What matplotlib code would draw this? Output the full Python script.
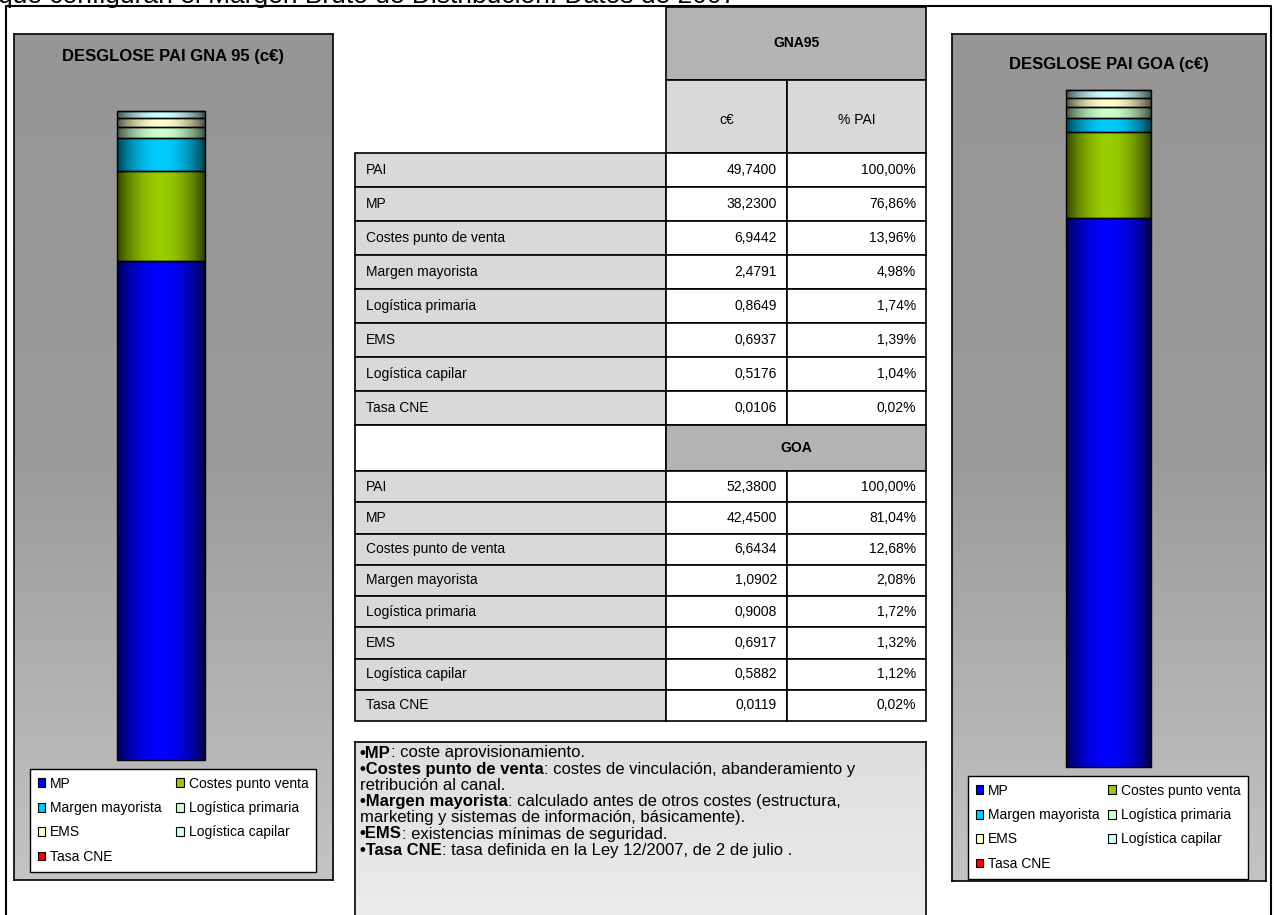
import numpy as np
import matplotlib
matplotlib.use('Agg')
import matplotlib.pyplot as plt
from matplotlib.patches import Rectangle, Patch
from matplotlib.colors import to_rgb, LinearSegmentedColormap

plt.rcParams['font.family'] = ['Liberation Sans', 'DejaVu Sans']

W, H = 1277, 915

# componentes del PAI, de abajo arriba en la barra
componentes = ['MP', 'Costes punto de venta', 'Margen mayorista', 'Logística primaria',
               'EMS', 'Logística capilar', 'Tasa CNE']
leyenda = ['MP', 'Costes punto venta', 'Margen mayorista', 'Logística primaria',
           'EMS', 'Logística capilar', 'Tasa CNE']
colores = ['#0000ff', '#99cc00', '#00ccff', '#ccffcc', '#ffffcc', '#ccffff', '#ff0000']

gna_pai = 49.7400
gna_ce = [38.2300, 6.9442, 2.4791, 0.8649, 0.6937, 0.5176, 0.0106]
gna_pct = [76.86, 13.96, 4.98, 1.74, 1.39, 1.04, 0.02]

goa_pai = 52.3800
goa_ce = [42.4500, 6.6434, 1.0902, 0.9008, 0.6917, 0.5882, 0.0119]
goa_pct = [81.04, 12.68, 2.08, 1.72, 1.32, 1.12, 0.02]

notas = [
    [('•MP', True), (': coste aprovisionamiento.', False)],
    [('•Costes punto de venta', True), (': costes de vinculación, abanderamiento y', False)],
    [('retribución al canal.', False)],
    [('•Margen mayorista', True), (': calculado antes de otros costes (estructura,', False)],
    [('marketing y sistemas de información, básicamente).', False)],
    [('•EMS', True), (': existencias mínimas de seguridad.', False)],
    [('•Tasa CNE', True), (': tasa definida en la Ley 12/2007, de 2 de julio .', False)],
]


def num(v):
    return f'{v:.4f}'.replace('.', ',')


def pct(v):
    return f'{v:.2f}%'.replace('.', ',')


fig = plt.figure(figsize=(W / 100, H / 100), dpi=100)
base = fig.add_axes([0, 0, 1, 1])
base.set_xlim(0, W)
base.set_ylim(H, 0)
base.axis('off')


def px_axes(x0, y0, x1, y1, **kw):
    return fig.add_axes([x0 / W, 1 - y1 / H, (x1 - x0) / W, (y1 - y0) / H], **kw)


# texto de cabecera cortado por arriba y marco exterior
base.text(-2, 3, 'que configuran el Margen Bruto de Distribución. Datos de 2007',
          fontsize=19, va='baseline', ha='left')
base.plot([6, 6, 1271, 1271], [H + 5, 6, 6, H + 5], color='black', lw=1.5)


def cilindro(color, n=80):
    t = np.linspace(0, 1, n)
    f = 0.3 + 0.7 * np.sin(np.pi * t) ** 0.8
    rgb = np.array(to_rgb(color))
    return (rgb[None, :] * f[:, None])[None, :, :]


def barra(ax, valores, total):
    fondo = 0.0
    for v, c in zip(valores, colores):
        rect = ax.bar(0, v, width=1.0, bottom=fondo, color='none', edgecolor='black',
                      lw=1.0, zorder=3, clip_on=False)[0]
        img = ax.imshow(cilindro(c), extent=(-0.5, 0.5, fondo, fondo + v),
                        aspect='auto', zorder=2, interpolation='bilinear')
        img.set_clip_path(rect)
        fondo += v
    ax.set_xlim(-0.5, 0.5)
    ax.set_ylim(0, total)
    ax.axis('off')


def panel(caja, titulo, y_titulo, valores, total, caja_barra, caja_ley):
    x0, y0, x1, y1 = caja
    ax = px_axes(x0, y0, x1, y1)
    grad = np.linspace(0, 1, 256)[:, None]
    cmap = LinearSegmentedColormap.from_list('fondo', ['#969696', '#9a9a9a', '#c4c4c4'])
    ax.imshow(grad, cmap=cmap, extent=(0, 1, 0, 1), aspect='auto')
    ax.set_xlim(0, 1)
    ax.set_ylim(0, 1)
    ax.set_xticks([])
    ax.set_yticks([])
    for s in ax.spines.values():
        s.set_linewidth(1.2)
    ax.text(0.5, 1 - (y_titulo - y0) / (y1 - y0), titulo, ha='center', va='center',
            fontsize=12, fontweight='bold', transform=ax.transAxes)

    bx = px_axes(*caja_barra)
    barra(bx, valores, total)

    orden = [0, 2, 4, 6, 1, 3, 5]
    handles = [Patch(facecolor=colores[i], edgecolor='black', lw=0.8) for i in orden]
    labels = [leyenda[i] for i in orden]
    lx0, ly0, lx1, ly1 = caja_ley
    leg = ax.legend(handles, labels, ncol=2, loc='upper left', mode='expand',
                    bbox_to_anchor=((lx0 - x0) / (x1 - x0), 1 - (ly0 - y0) / (y1 - y0),
                                    (lx1 - lx0) / (x1 - x0), 0.0),
                    borderaxespad=0, fontsize=10, handlelength=0.55, handleheight=0.6,
                    handletextpad=0.35, labelspacing=0.75, borderpad=0.55,
                    columnspacing=0.8, fancybox=False, framealpha=1, edgecolor='black')
    leg.get_frame().set_linewidth(1.0)


panel((14, 34, 333, 880), 'DESGLOSE PAI GNA 95 (c€)', 57, gna_ce, gna_pai,
      (117, 111, 205, 760), (30, 769, 316, 872))
panel((952, 34, 1266, 881), 'DESGLOSE PAI GOA (c€)', 64, goa_ce, goa_pai,
      (1066, 90, 1151, 767), (968, 776, 1248, 876))

# tabla central
cx = [355, 666, 787, 926]
gris_osc = '#b3b3b3'
gris_cla = '#d9d9d9'


def celda(x0, y0, x1, y1, color):
    base.add_patch(Rectangle((x0, y0), x1 - x0, y1 - y0, facecolor=color,
                             edgecolor='black', lw=1.2, zorder=2))


def filas(y_ini, alto, pai, ce, pcts):
    nombres = ['PAI'] + componentes
    vals = [pai] + ce
    ps = [100.0] + pcts
    for i, (n, v, p) in enumerate(zip(nombres, vals, ps)):
        ya = y_ini + i * alto
        yb = ya + alto
        ym = (ya + yb) / 2
        celda(cx[0], ya, cx[1], yb, gris_cla)
        celda(cx[1], ya, cx[2], yb, 'white')
        celda(cx[2], ya, cx[3], yb, 'white')
        base.text(cx[0] + 11, ym, n, fontsize=10, va='center', ha='left', zorder=3)
        base.text(cx[2] - 10, ym, num(v), fontsize=10, va='center', ha='right', zorder=3)
        base.text(cx[3] - 10, ym, pct(p), fontsize=10, va='center', ha='right', zorder=3)


celda(cx[1], 7, cx[3], 80, gris_osc)
base.text((cx[1] + cx[3]) / 2, 43, 'GNA95', fontsize=10, fontweight='bold',
          ha='center', va='center', zorder=3)
celda(cx[1], 80, cx[2], 153, gris_cla)
celda(cx[2], 80, cx[3], 153, gris_cla)
base.text((cx[1] + cx[2]) / 2, 120, 'c€', fontsize=10, ha='center', va='center', zorder=3)
base.text((cx[2] + cx[3]) / 2, 120, '% PAI', fontsize=10, ha='center', va='center', zorder=3)
filas(153, 34, gna_pai, gna_ce, gna_pct)

y_goa = 153 + 8 * 34
celda(cx[0], y_goa, cx[1], 471, 'white')
celda(cx[1], y_goa, cx[3], 471, gris_osc)
base.text((cx[1] + cx[3]) / 2, (y_goa + 471) / 2, 'GOA', fontsize=10, fontweight='bold',
          ha='center', va='center', zorder=3)
filas(471, 31.25, goa_pai, goa_ce, goa_pct)

# recuadro de notas
nx = px_axes(355, 742, 926, H + 10)
nx.imshow(np.linspace(0, 1, 64)[:, None],
          cmap=LinearSegmentedColormap.from_list('nota', ['#dedede', '#ececec']),
          extent=(0, 1, 0, 1), aspect='auto')
nx.set_xlim(0, 1)
nx.set_ylim(0, 1)
nx.set_xticks([])
nx.set_yticks([])
for s in nx.spines.values():
    s.set_linewidth(1.2)

for i, linea in enumerate(notas):
    y = 753 + i * 16.2
    prev = None
    for texto, negrita in linea:
        peso = 'bold' if negrita else 'normal'
        if prev is None:
            prev = nx.text(360, y, texto, fontsize=12, fontweight=peso, va='center',
                           ha='left', zorder=5, transform=base.transData)
        else:
            prev = nx.annotate(texto, xy=(1, 0), xycoords=prev, fontsize=12,
                               fontweight=peso, va='bottom', ha='left', zorder=5)

fig.savefig('out.png', dpi=100)
